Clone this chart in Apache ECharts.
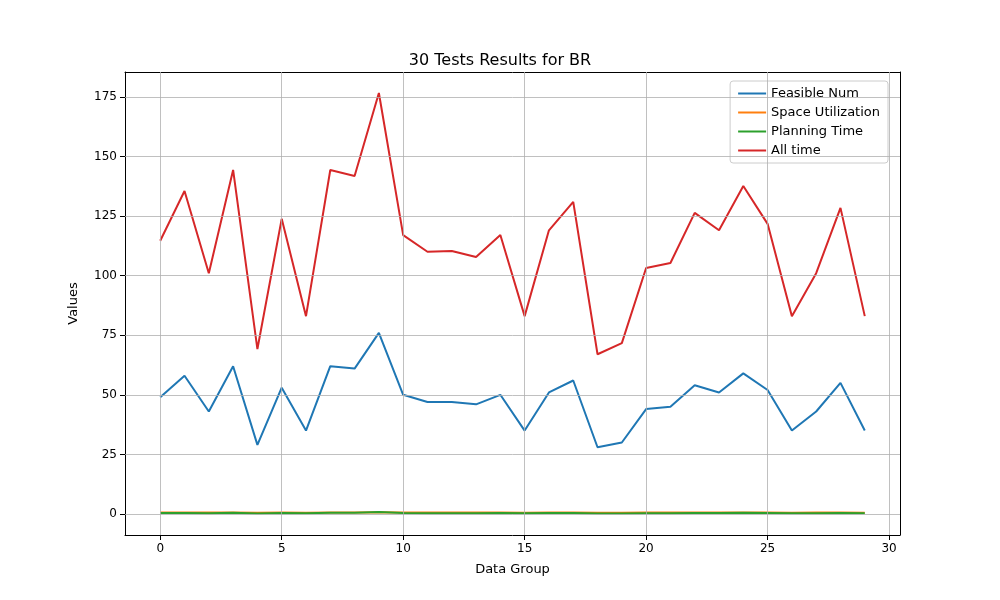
<!DOCTYPE html>
<html><head><meta charset="utf-8">
<script src="https://cdn.jsdelivr.net/npm/echarts@6/dist/echarts.min.js"></script>
<style>html,body{margin:0;background:#fff}#c{width:1000px;height:600px}</style>
</head><body><div id="c"></div>
<script>
const groups = Array.from({length:30},(_,i)=>i);
const feasibleNum = [49,58,43,62,29,53,35,62,61,76,50,47,47,46,50,35,51,56,28,30,44,45,54,51,59,52,35,43,55,35];
const spaceUtil = [0.62,0.65,0.6,0.66,0.5,0.63,0.55,0.66,0.66,0.75,0.62,0.6,0.6,0.6,0.62,0.55,0.62,0.64,0.5,0.52,0.6,0.6,0.63,0.62,0.65,0.62,0.55,0.6,0.64,0.55];
const planTime = [0.4,0.45,0.35,0.5,0.2,0.45,0.3,0.5,0.5,0.8,0.4,0.35,0.35,0.35,0.4,0.3,0.4,0.45,0.2,0.25,0.35,0.35,0.45,0.4,0.5,0.45,0.3,0.35,0.45,0.3];
const allTime = [114.6,135.5,101,144.3,69.2,123.8,83,144.3,141.8,176.6,117,110,110.3,107.8,117,83,119,130.9,67,71.7,103.2,105.3,126.3,119,137.6,121.7,83,101,128.4,83];
const xTicks = [0,5,10,15,20,25,30];
const yTicks = [0,25,50,75,100,125,150,175];
const font = 'DejaVu Sans';
const mk = (name, data, color) => ({name, type:'line', data: groups.map((g,i)=>[g,data[i]]), showSymbol:false, lineStyle:{width:2,color}, itemStyle:{color}});
const frame = (pos) => ({type:'value',position:pos,min:pos==='top'?-1.45:-8.8,max:pos==='top'?30.45:185.4,
  axisLine:{show:true,onZero:false,lineStyle:{color:'#000'}},axisTick:{show:false},axisLabel:{show:false},splitLine:{show:false}});
const chart = echarts.init(document.getElementById('c'));
chart.setOption({
  animation:false,
  textStyle:{fontFamily:font},
  title:{text:'30 Tests Results for BR',left:'center',top:48,textStyle:{fontFamily:font,fontSize:16,fontWeight:'normal',color:'#000'}},
  legend:{orient:'vertical',right:112,top:81,itemWidth:28,itemHeight:2,itemGap:6,icon:'rect',
    data:['Feasible Num','Space Utilization','Planning Time','All time'],
    backgroundColor:'#fff',borderColor:'#ccc',borderWidth:1,borderRadius:3,padding:[6,8,6,8],
    textStyle:{fontFamily:font,fontSize:13,color:'#000'}},
  grid:{left:125,right:100,top:72,bottom:65},
  xAxis:[{type:'value',min:-1.45,max:30.45,name:'Data Group',nameLocation:'middle',nameGap:28,
    nameTextStyle:{fontFamily:font,fontSize:13,color:'#000'},
    axisLine:{onZero:false,lineStyle:{color:'#000'}},
    axisTick:{show:true,customValues:xTicks,lineStyle:{color:'#000'}},
    axisLabel:{customValues:xTicks,color:'#000',fontSize:12,fontFamily:font},
    splitLine:{show:false}}, frame('top')],
  yAxis:[{type:'value',min:-8.8,max:185.4,name:'Values',nameLocation:'middle',nameGap:45,
    nameTextStyle:{fontFamily:font,fontSize:13,color:'#000'},
    axisLine:{show:true,onZero:false,lineStyle:{color:'#000'}},
    axisTick:{show:true,customValues:yTicks,lineStyle:{color:'#000'}},
    axisLabel:{customValues:yTicks,color:'#000',fontSize:12,fontFamily:font},
    splitLine:{show:false}}, frame('right')],
  series:[
    mk('Feasible Num',feasibleNum,'#1f77b4'),
    mk('Space Utilization',spaceUtil,'#ff7f0e'),
    mk('Planning Time',planTime,'#2ca02c'),
    mk('All time',allTime,'#d62728'),
    {type:'line',data:[],silent:true,markLine:{silent:true,symbol:'none',label:{show:false},
      lineStyle:{color:'#b0b0b0',width:0.8,type:'solid'},
      data:[...xTicks.map(v=>({xAxis:v})),...yTicks.map(v=>({yAxis:v}))]}}
  ]
});
</script></body></html>
